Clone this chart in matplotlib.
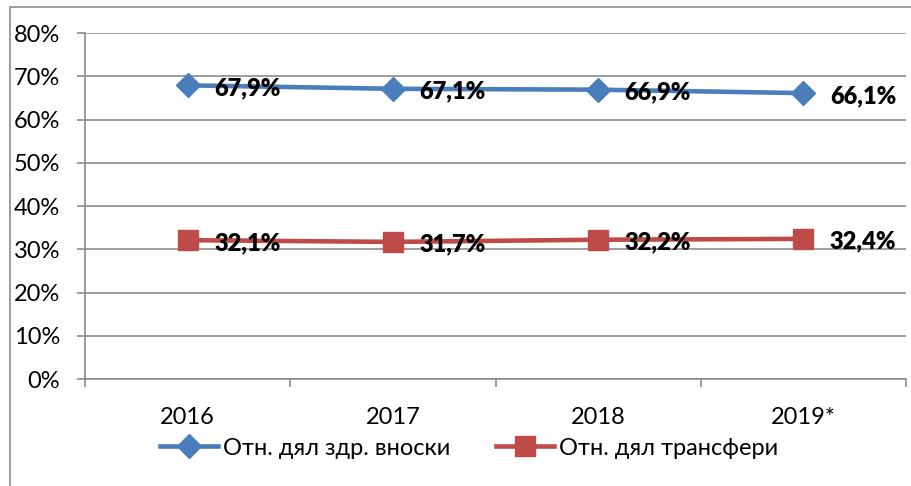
import matplotlib.pyplot as plt
from matplotlib.patches import Rectangle
from matplotlib.lines import Line2D

years = ['2016', '2017', '2018', '2019*']
contrib = [67.9, 67.1, 66.9, 66.1]
transfers = [32.1, 31.7, 32.2, 32.4]
contrib_name = 'Отн. дял здр. вноски'
transfers_name = 'Отн. дял трансфери'

blue = '#4a7ebb'
red = '#be4b48'
gray = '#8c8c8c'

plt.rcParams['font.family'] = ['Lato', 'DejaVu Sans']

fig = plt.figure(figsize=(9.11, 4.86), dpi=100)
# outer chart border
fig.patches.append(Rectangle((10 / 911, -0.01), 1.0, 1 - 7 / 486 + 0.01,
                             transform=fig.transFigure, fill=False,
                             edgecolor=gray, linewidth=1.2))

ax = fig.add_axes([85 / 911, 107 / 486, 821 / 911, 346 / 486])
x = list(range(len(years)))

ax.plot(x, contrib, color=blue, linewidth=3.3, marker='D', markersize=12,
        zorder=3)
ax.plot(x, transfers, color=red, linewidth=3.3, marker='s', markersize=14,
        zorder=3)

for xi, v in zip(x, contrib):
    ax.annotate('{:.1f}%'.format(v).replace('.', ','), (xi, v),
                xytext=(19, -2), textcoords='offset points',
                ha='left', va='center', fontsize=17, fontweight='heavy')
for xi, v in zip(x, transfers):
    ax.annotate('{:.1f}%'.format(v).replace('.', ','), (xi, v),
                xytext=(19, -2), textcoords='offset points',
                ha='left', va='center', fontsize=17, fontweight='heavy')

ax.set_xlim(-0.5, len(years) - 0.5)
ax.set_ylim(0, 80)
ax.set_yticks(range(0, 81, 10))
ax.set_yticklabels(['{}%'.format(t) for t in range(0, 81, 10)], fontsize=17)
ax.set_xticks(x)
ax.set_xticklabels(years, fontsize=17)
ax.set_xticks([i + 0.5 for i in range(-1, len(years))], minor=True)
ax.tick_params(axis='x', which='major', length=0, pad=20)
ax.tick_params(axis='x', which='minor', length=6, color=gray, width=1.2)
ax.tick_params(axis='y', length=6, color=gray, width=1.2, pad=12)
ax.grid(axis='y', color=gray, linewidth=1.2)
ax.set_axisbelow(True)
for s in ['top', 'right']:
    ax.spines[s].set_visible(False)
for s in ['left', 'bottom']:
    ax.spines[s].set_color(gray)
    ax.spines[s].set_linewidth(1.2)

handles = [Line2D([], [], color=blue, linewidth=3.3, marker='D', markersize=12),
           Line2D([], [], color=red, linewidth=3.3, marker='s', markersize=14)]
fig.legend(handles, [contrib_name, transfers_name], loc='center',
           bbox_to_anchor=(0.515, 1 - 448 / 486), ncol=2, frameon=False,
           fontsize=17, handlelength=2.45, handletextpad=0.25,
           columnspacing=1.9)

fig.savefig('out.png', dpi=100)
